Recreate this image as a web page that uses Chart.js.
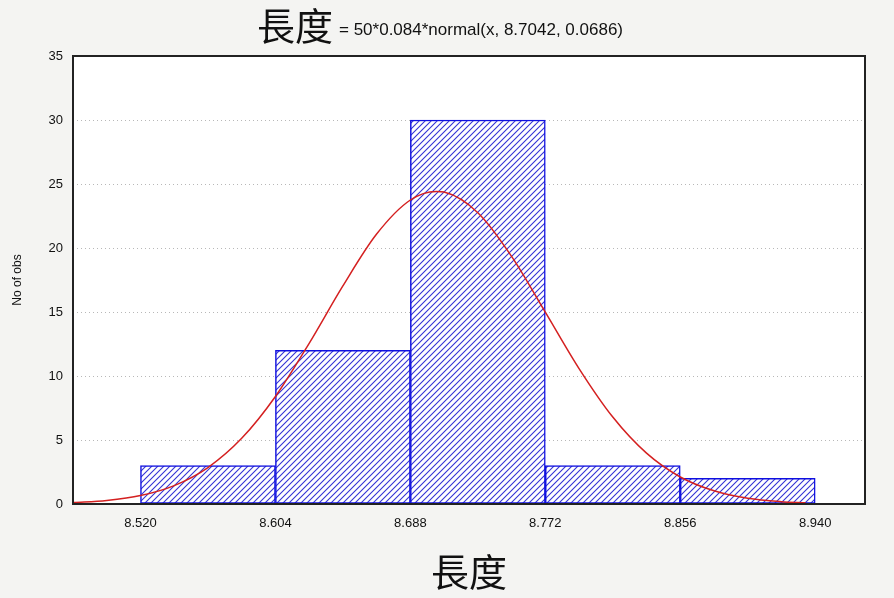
<!DOCTYPE html>
<html>
<head>
<meta charset="utf-8">
<script src="https://cdn.jsdelivr.net/npm/chart.js@4/dist/chart.umd.min.js"></script>
<style>
  html, body { margin: 0; padding: 0; background: #f4f4f2; }
  #wrap { position: relative; width: 894px; height: 598px; }
  canvas { display: block; }
</style>
</head>
<body>
<div id="wrap"><canvas id="c" width="894" height="598"></canvas></div>
<script>
// ---- data ----
const binEdges = [8.520, 8.604, 8.688, 8.772, 8.856, 8.940];
const binCenters = [8.562, 8.646, 8.730, 8.814, 8.898];
const counts = [3, 12, 30, 3, 2];
const curveX = [8.478, 8.499, 8.520, 8.541, 8.562, 8.583, 8.604, 8.625, 8.646, 8.667, 8.688, 8.7042, 8.709, 8.730, 8.751, 8.772, 8.793, 8.814, 8.835, 8.856, 8.877, 8.898, 8.919, 8.934];
const curveY = [0.11, 0.28, 0.66, 1.44, 2.85, 5.13, 8.40, 12.55, 17.04, 21.09, 23.75, 24.42, 24.37, 22.76, 19.35, 14.99, 10.58, 6.79, 3.97, 2.11, 1.03, 0.45, 0.18, 0.09];
const yTicks = [0, 5, 10, 15, 20, 25, 30, 35];
const titleMain = '長度';
const titleFormula = '= 50*0.084*normal(x, 8.7042, 0.0686)';
const xTitle = '長度';
const yTitle = 'No of obs';

// hatch pattern
function makeHatch() {
  const s = 6;
  const pc = document.createElement('canvas');
  pc.width = s; pc.height = s;
  const p = pc.getContext('2d');
  p.fillStyle = '#ffffff';
  p.fillRect(0, 0, s, s);
  p.strokeStyle = '#3434d4';
  p.lineWidth = 1.1;
  p.beginPath();
  p.moveTo(-1, s + 1); p.lineTo(s + 1, -1);
  p.moveTo(-1, 1); p.lineTo(1, -1);
  p.moveTo(s - 1, s + 1); p.lineTo(s + 1, s - 1);
  p.stroke();
  return p.createPattern(pc, 'repeat');
}

const ctx = document.getElementById('c').getContext('2d');
const hatch = makeHatch();
const narrow = '"Liberation Sans Narrow", "Liberation Sans", sans-serif';

const bgPlugin = {
  id: 'bg',
  beforeDraw(chart) {
    const { ctx, chartArea: a } = chart;
    ctx.save();
    ctx.fillStyle = '#ffffff';
    ctx.fillRect(a.left, a.top, a.right - a.left, a.bottom - a.top);
    ctx.restore();
  },
  afterDraw(chart) {
    const { ctx, chartArea: a } = chart;
    ctx.save();
    ctx.strokeStyle = '#222222';
    ctx.lineWidth = 2;
    ctx.strokeRect(a.left, a.top, a.right - a.left, a.bottom - a.top);
    // title
    ctx.fillStyle = '#111111';
    ctx.textBaseline = 'alphabetic';
    const f1 = '38px "Noto Sans CJK TC"';
    const f2 = '17px ' + narrow;
    ctx.font = f1;
    const w1 = ctx.measureText(titleMain).width;
    ctx.font = f2;
    const w2 = ctx.measureText(titleFormula).width;
    const gap = 6;
    const x0 = 440 - (w1 + gap + w2) / 2;
    ctx.font = f1;
    ctx.fillText(titleMain, x0, 40);
    ctx.font = f2;
    ctx.fillText(titleFormula, x0 + w1 + gap, 35);
    ctx.restore();
  }
};

new Chart(ctx, {
  type: 'bar',
  data: {
    datasets: [
      {
        type: 'line',
        data: curveX.map((x, i) => ({ x: x, y: curveY[i] })),
        borderColor: '#d42020',
        borderWidth: 1.5,
        pointRadius: 0,
        tension: 0.4,
        cubicInterpolationMode: 'monotone',
        order: 0
      },
      {
        type: 'bar',
        data: binCenters.map((x, i) => ({ x: x, y: counts[i] })),
        backgroundColor: hatch,
        borderColor: '#1010e0',
        borderWidth: 1.5,
        borderSkipped: false,
        barPercentage: 1.0,
        categoryPercentage: 1.0,
        order: 1
      }
    ]
  },
  options: {
    responsive: false,
    animation: false,
    layout: { padding: { top: 56, right: 29, left: 10, bottom: 0 } },
    plugins: { legend: { display: false }, tooltip: { enabled: false }, title: { display: false } },
    scales: {
      x: {
        type: 'linear',
        offset: false,
        min: 8.478,
        max: 8.971,
        afterBuildTicks(scale) { scale.ticks = binEdges.map(v => ({ value: v })); },
        afterFit(scale) { scale.height = 94; },
        grid: { display: false, drawTicks: false, offset: false },
        border: { display: false },
        ticks: {
          padding: 12,
          color: '#111',
          font: { family: narrow, size: 13 },
          callback: (v) => Number(v).toFixed(3),
          maxRotation: 0,
          autoSkip: false
        },
        title: {
          display: true,
          text: xTitle,
          color: '#111',
          font: { family: '"Noto Sans CJK TC"', size: 38 },
          padding: { top: 0, bottom: 4 }
        }
      },
      y: {
        min: 0,
        max: 35,
        afterBuildTicks(scale) { scale.ticks = yTicks.map(v => ({ value: v })); },
        afterFit(scale) { scale.width = 63; },
        grid: {
          display: true,
          drawTicks: false,
          color: (c) => (c.tick && (c.tick.value === 0 || c.tick.value === 35)) ? 'rgba(0,0,0,0)' : '#b8b8b8',
          lineWidth: 1
        },
        border: { display: false, dash: [1, 3] },
        ticks: {
          padding: 10,
          color: '#111',
          font: { family: narrow, size: 13 }
        },
        title: {
          display: true,
          text: yTitle,
          color: '#111',
          font: { family: narrow, size: 12 },
          padding: { top: 0, bottom: 4 }
        }
      }
    }
  },
  plugins: [bgPlugin]
});
</script>
</body>
</html>
